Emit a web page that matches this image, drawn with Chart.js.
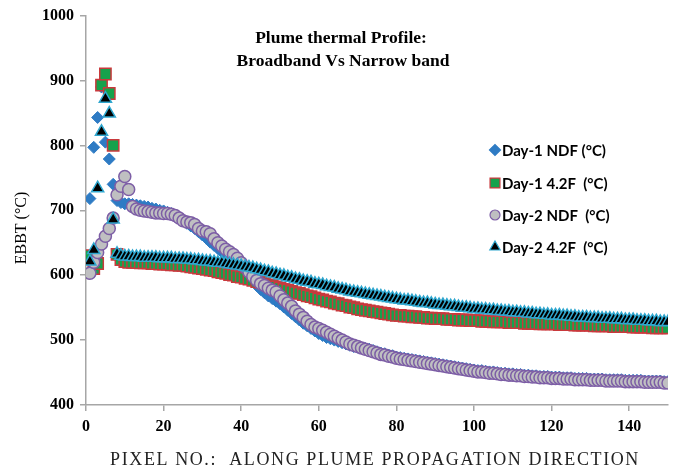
<!DOCTYPE html>
<html>
<head>
<meta charset="utf-8">
<title>Plume thermal Profile</title>
<script src="https://cdn.jsdelivr.net/npm/chart.js@4.4.1/dist/chart.umd.min.js"></script>
<style>
  body { margin: 0; background: #fff; }
  #wrap { width: 683px; height: 474px; }
</style>
</head>
<body>
<div id="wrap"><canvas id="mycanvas" width="683" height="474"></canvas></div>
<script>
// pixel numbers along the plume, 1..150
var pixelNo = Array.from({ length: 150 }, function (_, i) { return i + 1; });

var day1NDF = [
	718, 797, 843, 890, 805, 779, 740, 715, 712, 710,
	710, 709, 708, 707, 706, 705, 703, 702, 700, 699,
	697, 695, 692, 688, 684, 680, 676, 672, 667, 662,
	657, 651, 646, 641, 636, 631, 626, 620, 614, 608,
	602, 596, 590, 584, 578, 573, 568, 564, 560, 556,
	551, 546, 541, 536, 531, 526, 522, 518, 514, 510,
	507, 504, 502, 500, 498, 496, 494, 492, 490, 489,
	488, 487, 486, 484, 482, 480, 479, 477, 476, 474,
	473, 472, 471, 470, 469, 468, 467, 466, 465, 464,
	463, 462, 461, 460, 459, 458, 457, 456, 455, 454,
	453, 453, 452, 451, 451, 450, 449, 449, 448, 448,
	447, 447, 446, 446, 445, 445, 444, 444, 444, 443,
	443, 443, 442, 442, 442, 441, 441, 441, 441, 440,
	440, 440, 440, 439, 439, 439, 439, 439, 438, 438,
	438, 438, 438, 437, 437, 437, 437, 437, 436, 436
];

var day1F42 = [
	630, 610, 618, 893, 910, 880, 800, 632, 624, 621,
	620, 620, 620, 619, 619, 619, 618, 618, 617, 617,
	617, 616, 616, 615, 615, 614, 613, 612, 611, 610,
	609, 608, 607, 605, 604, 603, 601, 600, 598, 597,
	595, 594, 592, 590, 589, 587, 585, 584, 582, 580,
	578, 577, 575, 573, 572, 570, 568, 567, 565, 563,
	562, 560, 559, 557, 556, 554, 553, 551, 550, 548,
	547, 546, 545, 544, 543, 542, 541, 540, 539, 538,
	538, 537, 537, 536, 536, 535, 535, 534, 534, 533,
	533, 533, 532, 532, 532, 531, 531, 531, 530, 530,
	530, 529, 529, 529, 528, 528, 528, 528, 527, 527,
	527, 527, 526, 526, 526, 526, 525, 525, 525, 525,
	525, 524, 524, 524, 524, 523, 523, 523, 523, 523,
	522, 522, 522, 522, 522, 521, 521, 521, 521, 521,
	520, 520, 520, 520, 520, 519, 519, 519, 519, 519
];

var day2NDF = [
	603, 620, 635, 648, 660, 672, 688, 724, 737, 752,
	732, 706, 702, 700, 699, 698, 697, 696, 696, 695,
	695, 694, 692, 688, 684, 682, 681, 678, 672, 668,
	667, 664, 656, 650, 645, 640, 636, 632, 626, 619,
	612, 605, 598, 592, 587, 584, 580, 577, 574, 568,
	562, 557, 552, 545, 540, 535, 529, 524, 520, 518,
	515, 512, 509, 506, 503, 500, 497, 494, 492, 490,
	488, 486, 484, 482, 480, 478, 477, 475, 474, 472,
	471, 470, 469, 468, 467, 466, 465, 464, 463, 462,
	461, 460, 459, 458, 457, 456, 455, 454, 453, 452,
	451, 451, 450, 449, 449, 448, 447, 447, 446, 446,
	445, 445, 444, 444, 443, 443, 442, 442, 442, 441,
	441, 441, 440, 440, 440, 439, 439, 439, 439, 438,
	438, 438, 438, 437, 437, 437, 437, 437, 436, 436,
	436, 436, 436, 435, 435, 435, 435, 435, 434, 434
];

var day2F42 = [
	621, 639, 734, 821, 872, 849, 686, 633, 630, 629,
	629, 628, 628, 628, 627, 627, 627, 627, 626, 626,
	626, 626, 625, 625, 625, 624, 624, 623, 623, 622,
	621, 621, 620, 619, 619, 618, 617, 616, 615, 614,
	613, 612, 611, 609, 608, 606, 605, 603, 602, 600,
	599, 597, 596, 594, 593, 591, 590, 589, 587, 586,
	585, 583, 582, 581, 579, 578, 577, 575, 574, 573,
	572, 571, 570, 569, 568, 567, 566, 565, 564, 563,
	562, 561, 561, 560, 559, 558, 557, 557, 556, 555,
	554, 554, 553, 552, 552, 551, 550, 550, 549, 548,
	548, 547, 547, 546, 546, 545, 545, 544, 544, 543,
	543, 542, 542, 541, 541, 540, 540, 539, 539, 538,
	538, 538, 537, 537, 536, 536, 535, 535, 535, 534,
	534, 534, 533, 533, 533, 532, 532, 532, 531, 531,
	531, 530, 530, 530, 529, 529, 529, 528, 528, 528
];

var seriesNames = ['Day-1 NDF (°C)', 'Day-1 4.2F  (°C)', 'Day-2 NDF  (°C)', 'Day-2 4.2F  (°C)'];
var titleLines = ['Plume thermal Profile:', 'Broadband Vs Narrow band'];
var xTitle = 'PIXEL NO.:  ALONG PLUME PROPAGATION DIRECTION';
var yTitle = 'EBBT (°C)';
var xTicks = [0, 20, 40, 60, 80, 100, 120, 140];

function toPoints(vals) {
	var pts = [];
	for (var i in vals) {
		pts.push({ x: pixelNo[i], y: vals[i] });
	}
	return pts;
}

var serif = '"Liberation Serif", "Times New Roman", serif';
var axisGray = '#a6a6a6';

// chart title, axis titles and the legend are drawn by hand, placed like the original
var decor = {
	id: 'decor',
	afterDraw: function (chart) {
		var ctx = chart.ctx;
		ctx.save();
		ctx.fillStyle = '#000';
		ctx.textAlign = 'center';
		ctx.textBaseline = 'middle';
		ctx.font = 'bold 17.5px ' + serif;
		ctx.fillText(titleLines[0], 341, 38);
		ctx.fillText(titleLines[1], 343, 61);

		ctx.save();
		ctx.translate(22, 228);
		ctx.rotate(-Math.PI / 2);
		ctx.font = '16px ' + serif;
		ctx.fillText(yTitle, 0, 0);
		ctx.restore();

		ctx.save();
		ctx.font = '18px ' + serif;
		ctx.fillStyle = '#222';
		if ('letterSpacing' in ctx) ctx.letterSpacing = '1.6px';
		ctx.fillText(xTitle, 375, 460);
		ctx.restore();

		var legY = [150, 183, 215, 247];
		var legR = [5.5, 7, 5, 6];
		ctx.textAlign = 'left';
		ctx.font = 'bold 15px Lato, sans-serif';
		chart.data.datasets.forEach(function (ds, i) {
			ctx.fillStyle = ds.pointBackgroundColor;
			ctx.strokeStyle = ds.pointBorderColor;
			ctx.lineWidth = 1.2;
			Chart.helpers.drawPoint(ctx, { pointStyle: ds.pointStyle, radius: legR[i], borderWidth: 1.2, rotation: 0 }, 495, legY[i]);
			ctx.fillStyle = '#000';
			ctx.fillText(ds.label, 502, legY[i] + 1);
		});
		ctx.restore();
	}
};

var chartdata = {
	datasets: [
		{
			label: seriesNames[0],
			data: toPoints(day1NDF),
			pointStyle: 'rectRot',
			pointRadius: 6,
			pointBackgroundColor: '#2E7BC4',
			pointBorderColor: '#2E7BC4',
			pointBorderWidth: 1,
			order: 3
		},
		{
			label: seriesNames[1],
			data: toPoints(day1F42),
			pointStyle: 'rect',
			pointRadius: 8,
			pointBackgroundColor: '#16A24C',
			pointBorderColor: '#C9393C',
			pointBorderWidth: 1.5,
			order: 2
		},
		{
			label: seriesNames[2],
			data: toPoints(day2NDF),
			pointStyle: 'circle',
			pointRadius: 6,
			pointBackgroundColor: '#BFBFC1',
			pointBorderColor: '#7D5EA6',
			pointBorderWidth: 1.5,
			order: 1
		},
		{
			label: seriesNames[3],
			data: toPoints(day2F42),
			pointStyle: 'triangle',
			pointRadius: 7,
			pointBackgroundColor: '#000000',
			pointBorderColor: '#2FA7CF',
			pointBorderWidth: 1.5,
			order: 0
		}
	]
};

var ctx = document.getElementById('mycanvas');

var scatter = new Chart(ctx, {
	type: 'scatter',
	data: chartdata,
	plugins: [decor],
	options: {
		responsive: false,
		animation: false,
		layout: { padding: { top: 13, right: 15, bottom: 0, left: 0 } },
		plugins: {
			legend: { display: false },
			tooltip: { enabled: false }
		},
		elements: { point: { hoverRadius: 6 } },
		scales: {
			x: {
				type: 'linear',
				min: 0,
				max: 150,
				afterBuildTicks: function (scale) {
					scale.ticks = xTicks.map(function (v) { return { value: v }; });
				},
				afterFit: function (scale) { scale.height = 69; },
				grid: { display: true, drawOnChartArea: false, drawTicks: true, tickLength: 6, color: axisGray, lineWidth: 1.5 },
				border: { display: true, color: axisGray, width: 1.5 },
				ticks: { color: '#000', font: { family: serif, size: 16, weight: 'bold' }, padding: 6, maxRotation: 0 }
			},
			y: {
				min: 400,
				max: 1000,
				ticks: {
					stepSize: 100,
					color: '#000',
					font: { family: serif, size: 16, weight: 'bold' },
					padding: 6,
					callback: function (v) { return String(v); }
				},
				afterFit: function (scale) { scale.width = 86; },
				grid: { display: true, drawOnChartArea: false, drawTicks: true, tickLength: 6, color: axisGray, lineWidth: 1.5 },
				border: { display: true, color: axisGray, width: 1.5 }
			}
		}
	}
});
</script>
</body>
</html>
